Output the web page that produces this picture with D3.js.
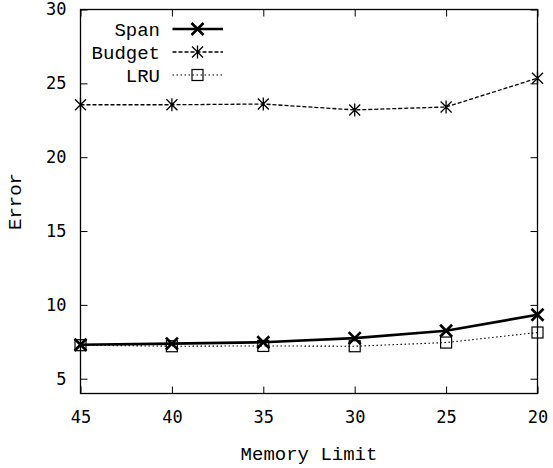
<!DOCTYPE html>
<html>
<head>
<meta charset="utf-8">
<script src="https://cdn.jsdelivr.net/npm/d3@7"></script>
<style>
  body { margin: 0; background: #fff; }
  svg { display: block; }
  .tick text { font-family: 'DejaVu Sans Mono', monospace; font-size: 17px; fill: #000; }
  .lbl { font-family: 'Courier New', 'Liberation Mono', monospace; font-size: 19px; fill: #000; }
</style>
</head>
<body>
<svg width="553" height="468"></svg>
<script>
// memory limits on x (reversed axis)
const memory = [45, 40, 35, 30, 25, 20];
const span = [7.3, 7.38, 7.47, 7.75, 8.25, 9.33];
const budget = [23.55, 23.55, 23.6, 23.2, 23.4, 25.35];
const lru = [7.27, 7.2, 7.22, 7.2, 7.45, 8.13];
const yTicks = [5, 10, 15, 20, 25, 30];

var svg = d3.select('svg');
var pLeft = 80.5, pRight = 537.5, pTop = 9.5, pBottom = 393.5;

var x = d3.scaleLinear().domain([45, 20]).range([pLeft, pRight]);
var y = d3.scaleLinear().domain([4, 30]).range([pBottom, pTop]);

var series = [
  { name: 'Span', vals: span, width: 2.6, dash: null, mark: 'x' },
  { name: 'Budget', vals: budget, width: 1.3, dash: '4,2', mark: 'star' },
  { name: 'LRU', vals: lru, width: 1.1, dash: '1.5,2.5', mark: 'box' }
];

// axes with inner ticks on all sides
svg.append('g')
  .attr('transform', 'translate(0,' + pBottom + ')')
  .call(d3.axisBottom(x).tickValues(memory).tickSize(-7).tickPadding(17))
  .call(g => g.select('.domain').remove());
svg.append('g')
  .attr('transform', 'translate(0,' + pTop + ')')
  .call(d3.axisTop(x).tickValues(memory).tickSize(-7).tickFormat(''))
  .call(g => g.select('.domain').remove());
svg.append('g')
  .attr('transform', 'translate(' + pLeft + ',0)')
  .call(d3.axisLeft(y).tickValues(yTicks).tickSize(-7).tickPadding(14))
  .call(g => g.select('.domain').remove());
svg.append('g')
  .attr('transform', 'translate(' + pRight + ',0)')
  .call(d3.axisRight(y).tickValues(yTicks).tickSize(-7).tickFormat(''))
  .call(g => g.select('.domain').remove());
svg.selectAll('.tick line').attr('stroke', '#000').attr('stroke-width', 1);

svg.append('rect')
  .attr('x', pLeft).attr('y', pTop)
  .attr('width', pRight - pLeft).attr('height', pBottom - pTop)
  .attr('fill', 'none').attr('stroke', '#000').attr('stroke-width', 1.3);

function marker(g, type, cx, cy) {
  if (type === 'x') {
    var s = 6;
    g.append('path')
      .attr('d', 'M' + (cx - s) + ',' + (cy - s) + 'L' + (cx + s) + ',' + (cy + s) +
        'M' + (cx - s) + ',' + (cy + s) + 'L' + (cx + s) + ',' + (cy - s))
      .attr('stroke', '#000').attr('stroke-width', 2.6).attr('fill', 'none');
  } else if (type === 'star') {
    var a = 5.5, b = 6.5;
    g.append('path')
      .attr('d', 'M' + (cx - a) + ',' + (cy - a) + 'L' + (cx + a) + ',' + (cy + a) +
        'M' + (cx - a) + ',' + (cy + a) + 'L' + (cx + a) + ',' + (cy - a) +
        'M' + cx + ',' + (cy - b) + 'L' + cx + ',' + (cy + b))
      .attr('stroke', '#000').attr('stroke-width', 1.3).attr('fill', 'none');
  } else {
    g.append('rect')
      .attr('x', cx - 5.5).attr('y', cy - 5.5).attr('width', 11).attr('height', 11)
      .attr('stroke', '#000').attr('stroke-width', 1.2).attr('fill', 'none');
  }
}

var line = d3.line().x(d => x(d[0])).y(d => y(d[1]));

series.forEach(function (s) {
  var pts = memory.map((m, i) => [m, s.vals[i]]);
  var g = svg.append('g');
  g.append('path')
    .datum(pts)
    .attr('d', line)
    .attr('fill', 'none')
    .attr('stroke', '#000')
    .attr('stroke-width', s.width)
    .attr('stroke-dasharray', s.dash);
  pts.forEach(p => marker(g, s.mark, x(p[0]), y(p[1])));
});

// legend
series.forEach(function (s, i) {
  var ly = 29 + i * 23;
  svg.append('text').attr('class', 'lbl')
    .attr('x', 160).attr('y', ly).attr('dy', '0.35em')
    .attr('text-anchor', 'end').text(s.name);
  svg.append('line')
    .attr('x1', 172.5).attr('x2', 223).attr('y1', ly).attr('y2', ly)
    .attr('stroke', '#000').attr('stroke-width', s.width)
    .attr('stroke-dasharray', s.dash);
  marker(svg, s.mark, 197.5, ly);
});

svg.append('text').attr('class', 'lbl')
  .attr('x', (pLeft + pRight) / 2).attr('y', 453).attr('dy', '0.35em')
  .attr('text-anchor', 'middle').text('Memory Limit');

svg.append('text').attr('class', 'lbl')
  .attr('transform', 'translate(14,' + (pTop + pBottom) / 2 + ') rotate(-90)')
  .attr('dy', '0.35em')
  .attr('text-anchor', 'middle').text('Error');
</script>
</body>
</html>
